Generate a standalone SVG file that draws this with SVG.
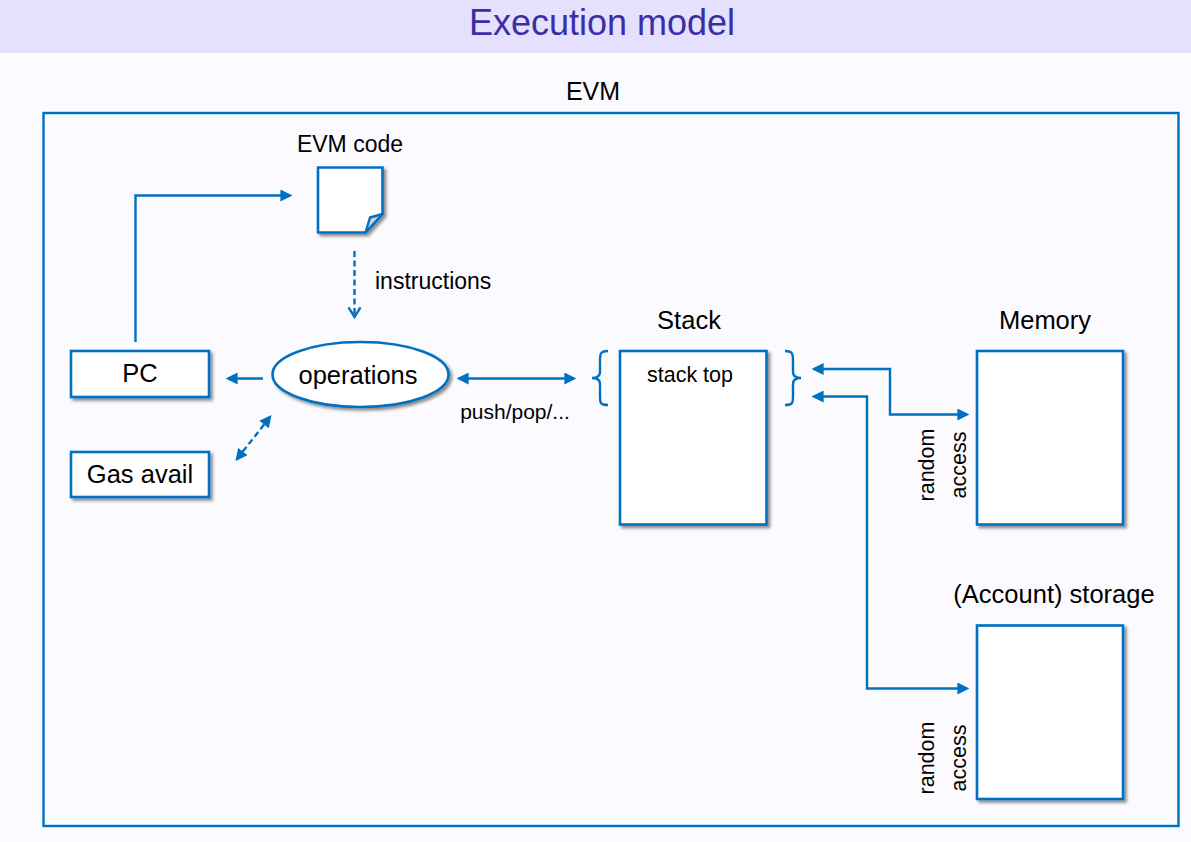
<svg xmlns="http://www.w3.org/2000/svg" width="1191" height="842" viewBox="0 0 1191 842">
<style>
text{font-family:"Liberation Sans",Arial,sans-serif;fill:#000}
.n{fill:#fff;stroke:#0070c0;stroke-width:2.6;filter:url(#sh)}
.c{fill:none;stroke:#0070c0;stroke-width:2.4}
.d{stroke-dasharray:6 3.5}
.a{marker-end:url(#ah)}
.b{marker-start:url(#as);marker-end:url(#ah)}
</style>
<defs>
<filter id="sh" x="-10%" y="-10%" width="125%" height="125%"><feDropShadow dx="2.5" dy="2.5" stdDeviation="1.8" flood-color="#000" flood-opacity="0.45"/></filter>
<marker id="ah" markerWidth="6" markerHeight="6" refX="4" refY="2.5" orient="auto" markerUnits="strokeWidth"><path d="M0 0L5 2.5L0 5Z" fill="#0070c0"/></marker>
<marker id="as" markerWidth="6" markerHeight="6" refX="1" refY="2.5" orient="auto" markerUnits="strokeWidth"><path d="M5 0L0 2.5L5 5Z" fill="#0070c0"/></marker>
<marker id="ov" markerWidth="7" markerHeight="7" refX="5" refY="3" orient="auto" markerUnits="strokeWidth"><path d="M1 0.5L5 3L1 5.5" fill="none" stroke="#0070c0" stroke-width="1"/></marker>
</defs>
<rect width="1191" height="842" fill="#fbfbff"/>
<rect id="title-bar" width="1191" height="53" fill="#e4e0fd"/>
<text x="602" y="35" text-anchor="middle" font-size="36" style="fill:#3a2ea6">Execution model</text>
<g id="evm"><rect x="43.500" y="113" width="1135" height="713" fill="none" stroke="#0070c0" stroke-width="2.400"/><text x="593" y="100" text-anchor="middle" font-size="25">EVM</text></g>
<g id="connectors">
<path class="c a" d="M135.500 342V195.500H290"/>
<path class="c d" d="M354.500 251V317" marker-end="url(#ov)"/>
<path class="c a" d="M263 378.500H228"/>
<path class="c d b" d="M270 417L237 459"/>
<path class="c b" d="M459 378.500H574"/>
<path class="c b" d="M814 369H890V414.500H967"/>
<path class="c b" d="M814 396.500H867V688.500H967"/>
<path class="c" d="M608 351C600 351 600 354 600 362V372C600 376 597 378 592 378C597 378 600 380 600 384V395C600 403 600 405 608 405"/>
<path class="c" d="M785 351C793 351 793 354 793 362V372C793 376 796 378 801 378C796 378 793 380 793 384V395C793 403 793 405 785 405"/>
</g>
<g id="evm-code"><path class="n" d="M318 167.500H382.500V214L365.500 232.500H318Z"/>
<path d="M365.500 232.500L370 217.500L382.500 214Z" fill="#cfd3da" stroke="#0070c0" stroke-width="2.400" stroke-linejoin="round"/>
<text x="350" y="152" text-anchor="middle" font-size="23">EVM code</text></g>
<text x="375" y="289" font-size="23">instructions</text>
<g id="pc"><rect class="n" x="71" y="351" width="138" height="46"/><text x="140" y="382" text-anchor="middle" font-size="25.500">PC</text></g>
<g id="gas"><rect class="n" x="71" y="452" width="138" height="45"/><text x="140" y="483" text-anchor="middle" font-size="25.500">Gas avail</text></g>
<g id="operations"><ellipse class="n" cx="360.500" cy="374.500" rx="88" ry="32.500"/><text x="358" y="384" text-anchor="middle" font-size="25.500">operations</text></g>
<text x="515" y="419" text-anchor="middle" font-size="21">push/pop/...</text>
<g id="stack"><rect class="n" x="620" y="351" width="146.500" height="173.500"/><text x="689" y="329" text-anchor="middle" font-size="25.500">Stack</text><text x="690" y="382" text-anchor="middle" font-size="21.500">stack top</text></g>
<g id="memory"><rect class="n" x="977" y="351" width="146" height="173.500"/><text x="1045" y="329" text-anchor="middle" font-size="25.500">Memory</text></g>
<g id="storage"><rect class="n" x="977" y="625.500" width="146" height="173.500"/><text x="1054" y="603" text-anchor="middle" font-size="25.500">(Account) storage</text></g>
<text transform="translate(934 465) rotate(-90)" text-anchor="middle" font-size="21.500">random</text>
<text transform="translate(966 465) rotate(-90)" text-anchor="middle" font-size="21.500">access</text>
<text transform="translate(934 758) rotate(-90)" text-anchor="middle" font-size="21.500">random</text>
<text transform="translate(966 758) rotate(-90)" text-anchor="middle" font-size="21.500">access</text>
</svg>
